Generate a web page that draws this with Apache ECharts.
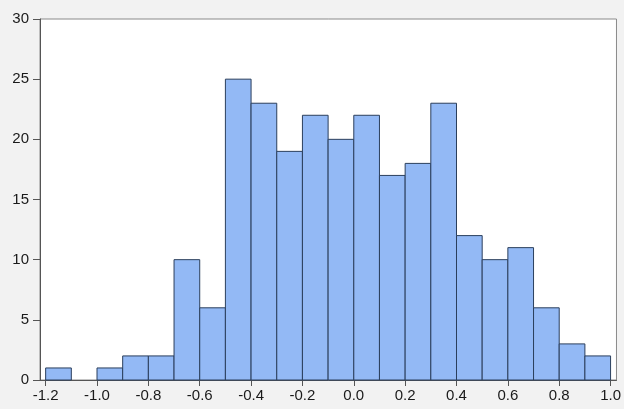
<!DOCTYPE html>
<html>
<head>
<meta charset="utf-8">
<script src="https://cdn.jsdelivr.net/npm/echarts@6/dist/echarts.min.js"></script>
<style>
  html, body { margin: 0; padding: 0; background: #f2f2f2; }
  #chart { width: 624px; height: 409px; }
</style>
</head>
<body>
<div id="chart"></div>
<script>
// Histogram bins: left edge of each bin, bin width, and counts
const binStarts = [-1.2, -1.1, -1.0, -0.9, -0.8, -0.7, -0.6, -0.5, -0.4, -0.3, -0.2,
                   -0.1, 0.0, 0.1, 0.2, 0.3, 0.4, 0.5, 0.6, 0.7, 0.8, 0.9];
const binWidth = 0.1;
const counts = [1, 0, 1, 2, 2, 10, 6, 25, 23, 19, 22, 20, 22, 17, 18, 23, 12, 10, 11, 6, 3, 2];
const xTicks = [-1.2, -1.0, -0.8, -0.6, -0.4, -0.2, 0.0, 0.2, 0.4, 0.6, 0.8, 1.0];
const yTicks = [0, 5, 10, 15, 20, 25, 30];

const chart = echarts.init(document.getElementById('chart'), null, { renderer: 'canvas' });

const data = binStarts.map((s, i) => [s, s + binWidth, counts[i]]);

chart.setOption({
  backgroundColor: '#f2f2f2',
  animation: false,
  grid: {
    left: 40, right: 3, top: 19, bottom: 29,
    show: true, backgroundColor: '#ffffff',
    borderColor: '#8a8a8a', borderWidth: 1
  },
  xAxis: {
    type: 'value',
    min: -1.222, max: 1.023,
    interval: 0.2,
    splitLine: { show: false },
    axisLine: { show: true, onZero: false, lineStyle: { color: '#555', width: 1 } },
    axisTick: {
      show: true, length: 6, lineStyle: { color: '#555' },
      customValues: xTicks
    },
    axisLabel: {
      customValues: xTicks,
      color: '#1a1a1a', fontFamily: 'Liberation Sans', fontSize: 15, margin: 8,
      formatter: v => v.toFixed(1)
    }
  },
  yAxis: {
    type: 'value',
    min: 0, max: 30, interval: 5,
    splitLine: { show: false },
    axisLine: { show: true, onZero: false, lineStyle: { color: '#555', width: 1 } },
    axisTick: { show: true, length: 7, lineStyle: { color: '#555' }, customValues: yTicks },
    axisLabel: {
      customValues: yTicks,
      color: '#1a1a1a', fontFamily: 'Liberation Sans', fontSize: 15, margin: 11
    }
  },
  series: [{
    type: 'custom',
    data: data,
    encode: { x: [0, 1], y: 2 },
    renderItem: function (params, api) {
      const p0 = api.coord([api.value(0), 0]);
      const p1 = api.coord([api.value(1), api.value(2)]);
      if (api.value(2) <= 0) return null;
      return {
        type: 'rect',
        shape: { x: p0[0], y: p1[1], width: p1[0] - p0[0], height: p0[1] - p1[1] },
        style: { fill: '#93b9f5', stroke: '#2b3f5c', lineWidth: 1 }
      };
    }
  }]
});
</script>
</body>
</html>
